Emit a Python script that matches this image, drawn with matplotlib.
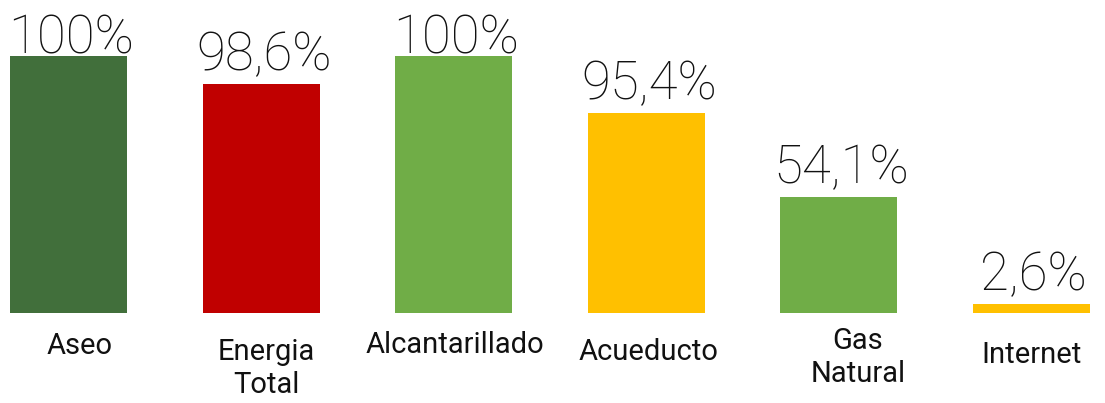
"""Cobertura de servicios públicos: barras con porcentaje."""

import matplotlib.pyplot as plt

# datos
servicios = ["Aseo", "Energia\nTotal", "Alcantarillado", "Acueducto",
             "Gas\nNatural", "Internet"]
etiquetas = ["100%", "98,6%", "100%", "95,4%", "54,1%", "2,6%"]
# longitud de barra tal como aparece dibujada (100 = barra más alta)
alturas = [100, 89, 100, 78, 45, 3.5]
colores = ["#416F3B", "#C00000", "#70AD47", "#FFC000", "#70AD47", "#FFC000"]

# ajustes de posición de los nombres (desplazamiento x, y en puntos)
ajuste_nombres = [(8, -24), (4, -40), (1, -23), (1.5, -28), (14, -32), (0, -30)]

fig = plt.figure(figsize=(11.05, 4.03), dpi=100)
ax = fig.add_axes([0, 0, 1, 1])

pos = list(range(len(servicios)))
ax.bar(pos, alturas, width=0.608, color=colores)

for x, h, txt in zip(pos, alturas, etiquetas):
    dy = 10 if "," in txt else 2
    ax.annotate(txt, (x, h), xytext=(2, dy), textcoords="offset points",
                ha="center", va="baseline", fontsize=38,
                family="Roboto", weight="light", color="#111111")

for x, nombre, (dx, dy) in zip(pos, servicios, ajuste_nombres):
    ax.annotate(nombre, (x, 0), xytext=(dx, dy), textcoords="offset points",
                ha="center", va="center", fontsize=21, family="Roboto",
                linespacing=1.2, color="#111111")

ax.set_xlim(-0.356, 5.384)
ax.set_ylim(-35, 121.8)
ax.axis("off")

fig.savefig("out.png", dpi=100)
plt.close(fig)
